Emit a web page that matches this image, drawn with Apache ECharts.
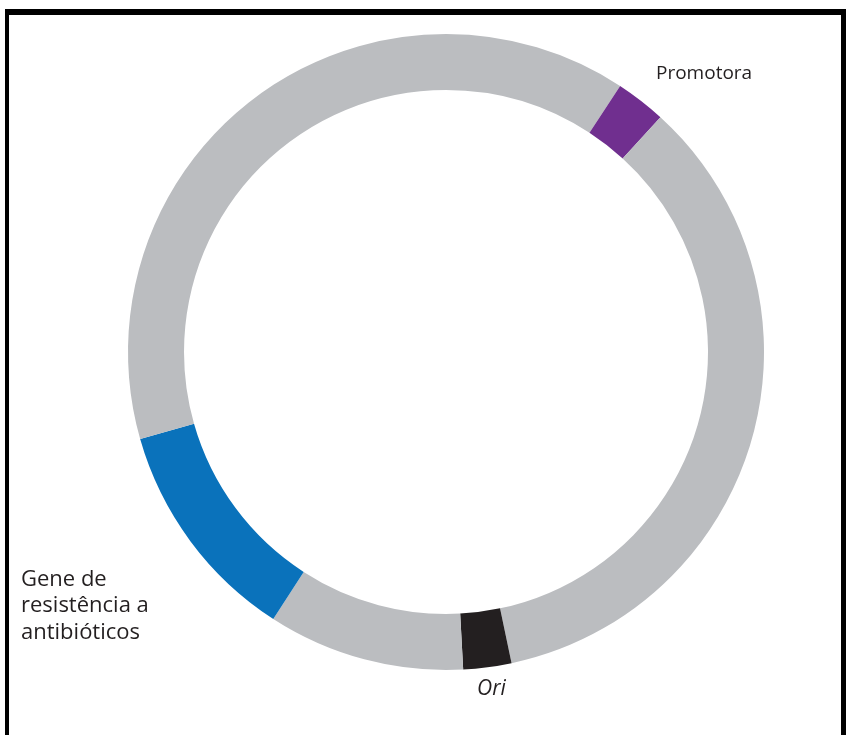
<!DOCTYPE html>
<html>
<head>
<meta charset="utf-8">
<script src="https://cdn.jsdelivr.net/npm/echarts@6/dist/echarts.min.js"></script>
<style>
  html, body { margin: 0; padding: 0; background: #fff; }
  #frame { position: absolute; left: 5px; top: 9px; width: 841px; height: 740px;
           border-top: 6px solid #000; border-left: 4px solid #000; border-right: 5px solid #000; box-sizing: border-box; }
  #chart { position: absolute; left: 0; top: 0; width: 848px; height: 735px; }
</style>
</head>
<body>
<div id="frame"></div>
<div id="chart"></div>
<script>
// Plasmid map segments, clockwise from 12 o'clock (arc length in degrees)
const segmentNames = ['', 'Promotora', '', 'Ori', '', 'Gene de resistência a antibióticos', ''];
const segmentValues = [33.2, 9.2, 125.7, 8.8, 36.0, 41.2, 105.9];
const segmentColors = ['#bbbdc0', '#702f8f', '#bbbdc0', '#231f20', '#bbbdc0', '#0a72bb', '#bbbdc0'];

const chart = echarts.init(document.getElementById('chart'));
chart.setOption({
  animation: false,
  series: [{
    type: 'pie',
    center: [446, 352],
    radius: [262, 318],
    startAngle: 90,
    clockwise: true,
    silent: true,
    label: { show: false },
    labelLine: { show: false },
    data: segmentValues.map((v, i) => ({
      value: v, name: segmentNames[i] || ('seg' + i),
      itemStyle: { color: segmentColors[i] }
    }))
  }],
  graphic: [
    { type: 'text', left: 656, top: 64, style: { text: 'Promotora', font: '19px "Open Sans"', fill: '#231f20' } },
    { type: 'text', left: 21, top: 566, style: { text: 'Gene de\nresistência a\nantibióticos', font: '22px "Open Sans"', lineHeight: 26.5, fill: '#231f20' } },
    { type: 'text', left: 477, top: 679, style: { text: 'Ori', font: 'italic 21px "Open Sans"', fill: '#231f20' } }
  ]
});
</script>
</body>
</html>
